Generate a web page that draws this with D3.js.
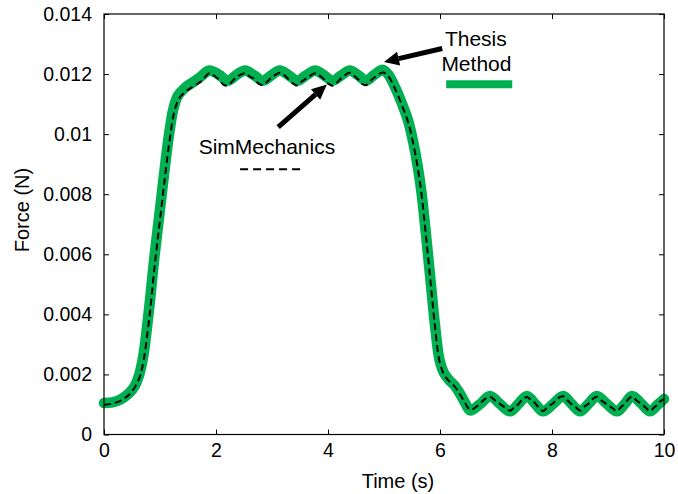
<!DOCTYPE html>
<html><head><meta charset="utf-8">
<script src="https://cdn.jsdelivr.net/npm/d3@7"></script>
<style>body{margin:0;background:#fff}svg{display:block}text{font-family:"Liberation Sans",Arial,sans-serif;fill:#000}</style>
</head><body><svg id="c" width="678" height="494"></svg>
<script>
const xTicks = [0,2,4,6,8,10];
const yTicks = [0,0.002,0.004,0.006,0.008,0.01,0.012,0.014];
const yTickLabels = ["0","0.002","0.004","0.006","0.008","0.01","0.012","0.014"];

const thesisTime = [0,0.15,0.3,0.45,0.55,0.63,0.7,0.8,0.9,1.0,1.1,1.17,1.24,1.32,1.45,1.6,1.72,1.88,2.05,2.21,2.37,2.52,2.68,2.84,2.99,3.14,3.3,3.45,3.61,3.77,3.93,4.08,4.24,4.39,4.54,4.68,4.83,4.98,5.08,5.2,5.32,5.43,5.52,5.6,5.67,5.75,5.83,5.91,5.99,6.07,6.16,6.26,6.36,6.45,6.54,6.72,6.89,7.07,7.25,7.4,7.55,7.7,7.84,8.02,8.2,8.35,8.5,8.65,8.8,8.98,9.16,9.3,9.43,9.6,9.75,9.88,10.0];
const thesisForce = [0.00105,0.00107,0.00117,0.00138,0.00162,0.002,0.0026,0.0041,0.0059,0.0075,0.0091,0.0101,0.01085,0.01128,0.01155,0.01174,0.0119,0.01212,0.01198,0.01178,0.01198,0.01212,0.01196,0.01178,0.01196,0.01212,0.01196,0.01178,0.01196,0.01212,0.01196,0.01178,0.01196,0.01212,0.01196,0.01178,0.01198,0.01214,0.01198,0.01155,0.01102,0.01045,0.00975,0.00895,0.00805,0.00665,0.00515,0.00365,0.0025,0.00205,0.00182,0.00163,0.00135,0.00105,0.0008,0.00102,0.00128,0.00102,0.00077,0.00102,0.00128,0.00102,0.00077,0.00102,0.00128,0.00102,0.00077,0.00102,0.00128,0.00102,0.00077,0.00102,0.00128,0.00102,0.00077,0.00098,0.00118];

const simTime = [0,0.15,0.3,0.45,0.55,0.64,0.71,0.81,0.91,1.01,1.11,1.18,1.25,1.34,1.48,1.62,1.75,1.88,1.96,2.05,2.13,2.21,2.3,2.4,2.52,2.6,2.68,2.76,2.84,2.92,3.02,3.14,3.22,3.3,3.38,3.45,3.53,3.65,3.77,3.85,3.93,4.0,4.08,4.16,4.27,4.39,4.47,4.54,4.61,4.68,4.76,4.87,4.98,5.08,5.2,5.32,5.43,5.52,5.6,5.67,5.75,5.83,5.91,5.99,6.07,6.16,6.26,6.36,6.45,6.54,6.63,6.72,6.8,6.89,6.98,7.07,7.16,7.25,7.33,7.4,7.48,7.55,7.62,7.7,7.77,7.84,7.93,8.02,8.1,8.2,8.28,8.35,8.43,8.5,8.58,8.65,8.72,8.8,8.89,8.98,9.07,9.16,9.23,9.3,9.37,9.43,9.51,9.6,9.68,9.75,9.82,9.88,9.94,10.0];
const simForce = [0.00098,0.00103,0.00113,0.00133,0.00157,0.00193,0.0025,0.0039,0.0057,0.0073,0.0089,0.0099,0.0107,0.01118,0.01145,0.01162,0.01178,0.01203,0.01196,0.01182,0.01165,0.01162,0.01178,0.01194,0.01203,0.01192,0.01184,0.01168,0.01163,0.01176,0.01192,0.01204,0.01196,0.01182,0.01168,0.01162,0.01175,0.0119,0.01203,0.01195,0.01183,0.01169,0.01161,0.01172,0.01192,0.01204,0.01194,0.01182,0.01167,0.01163,0.01178,0.01194,0.01205,0.01192,0.0115,0.01096,0.0104,0.0097,0.0089,0.008,0.0066,0.0051,0.0036,0.00245,0.002,0.00178,0.0016,0.00133,0.00104,0.00082,0.0009,0.00104,0.00118,0.00126,0.00114,0.00102,0.0009,0.00079,0.00092,0.00101,0.00118,0.00125,0.00116,0.00104,0.00088,0.00078,0.00094,0.00104,0.0012,0.00127,0.00113,0.00101,0.0009,0.0008,0.00093,0.00102,0.00117,0.00126,0.00112,0.00101,0.00089,0.00078,0.00091,0.00103,0.00119,0.00126,0.00113,0.00102,0.00088,0.00078,0.0009,0.00098,0.00112,0.00117];

const svg = d3.select("#c");
svg.append("rect").attr("width",678).attr("height",494).attr("fill","#fff");
const L=104, R=664, T=14, B=434.5;
const x = d3.scaleLinear().domain([0,10]).range([L,R]);
const y = d3.scaleLinear().domain([0,0.014]).range([B,T]);

const font = 19.5;
const gx = svg.append("g").attr("transform",`translate(0,${B})`)
  .call(d3.axisBottom(x).tickValues(xTicks).tickSize(-5).tickPadding(9).tickFormat(d3.format("d")));
const gy = svg.append("g").attr("transform",`translate(${L},0)`)
  .call(d3.axisLeft(y).tickValues(yTicks).tickSize(-5).tickPadding(12).tickFormat((d,i)=>yTickLabels[i]));
svg.append("g").attr("transform",`translate(0,${T})`)
  .call(d3.axisTop(x).tickValues(xTicks).tickSize(-5).tickFormat(""));
svg.append("g").attr("transform",`translate(${R},0)`)
  .call(d3.axisRight(y).tickValues(yTicks).tickSize(-5).tickFormat(""));
svg.selectAll(".domain").remove();
svg.selectAll(".tick line").attr("stroke","#000");
svg.selectAll(".tick text").attr("font-size",font).attr("font-family","Liberation Sans, Arial, sans-serif").attr("fill","#000");
gx.selectAll(".tick text").attr("dy","0.71em");

const line = d3.line().x(d=>x(d[0])).y(d=>y(d[1])).curve(d3.curveCatmullRom.alpha(0.5));
const thesisPts = thesisTime.map((t,i)=>[t,thesisForce[i]]);
const simPts = simTime.map((t,i)=>[t,simForce[i]]);
const green = "#00b050";
svg.append("path").attr("d",line(thesisPts)).attr("fill","none").attr("stroke",green)
  .attr("stroke-width",10.5).attr("stroke-linejoin","round").attr("stroke-linecap","round");
svg.append("path").attr("d",line(simPts)).attr("fill","none").attr("stroke","#000")
  .attr("stroke-width",2).attr("stroke-dasharray","7,4");

svg.append("rect").attr("x",L).attr("y",T).attr("width",R-L).attr("height",B-T)
  .attr("fill","none").attr("stroke","#000").attr("stroke-width",1.2);

svg.append("text").attr("x",398).attr("y",488).attr("text-anchor","middle").attr("font-size",20).text("Time (s)");
svg.append("text").attr("transform","translate(29,210) rotate(-90)").attr("text-anchor","middle").attr("font-size",20).text("Force (N)");

function arrow(t0,f0,t1,f1){
  const x0=x(t0),y0=y(f0),x1=x(t1),y1=y(f1);
  const a=Math.atan2(y1-y0,x1-x0), hl=15, hw=7;
  const bx=x1-hl*Math.cos(a), by=y1-hl*Math.sin(a);
  svg.append("line").attr("x1",x0).attr("y1",y0).attr("x2",bx).attr("y2",by).attr("stroke","#000").attr("stroke-width",5);
  svg.append("path").attr("d",`M${x1},${y1}L${bx+hw*Math.sin(a)},${by-hw*Math.cos(a)}L${bx-hw*Math.sin(a)},${by+hw*Math.cos(a)}Z`).attr("fill","#000");
}
arrow(6.04,0.01285,5.0,0.0124);
arrow(3.11,0.01023,3.98,0.01165);

svg.append("text").attr("x",x(6.64)).attr("y",y(0.01295)).attr("text-anchor","middle").attr("font-size",21).text("Thesis");
svg.append("text").attr("x",x(6.65)).attr("y",y(0.01209)).attr("text-anchor","middle").attr("font-size",21).text("Method");
svg.append("line").attr("x1",x(6.11)).attr("x2",x(7.29)).attr("y1",y(0.01166)).attr("y2",y(0.01166)).attr("stroke",green).attr("stroke-width",8);
svg.append("text").attr("x",x(2.91)).attr("y",y(0.00933)).attr("text-anchor","middle").attr("font-size",21).text("SimMechanics");
svg.append("line").attr("x1",x(2.43)).attr("x2",x(3.55)).attr("y1",y(0.00883)).attr("y2",y(0.00883)).attr("stroke","#000").attr("stroke-width",2).attr("stroke-dasharray","8,5");
</script></body></html>
